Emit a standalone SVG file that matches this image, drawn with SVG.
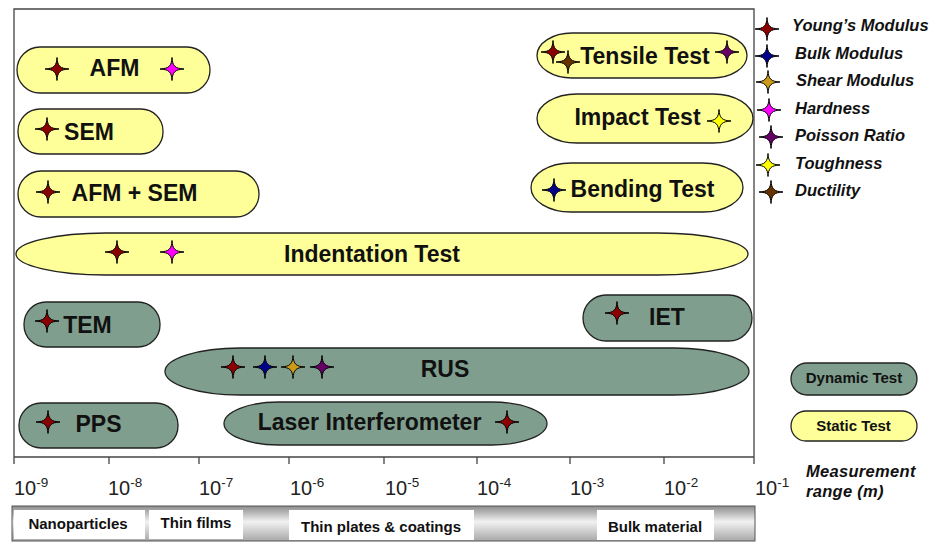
<svg xmlns="http://www.w3.org/2000/svg" xmlns:xlink="http://www.w3.org/1999/xlink" width="932" height="542" viewBox="0 0 932 542">
<style>
.lbl{font-family:"Liberation Sans",Arial,sans-serif;font-weight:bold;font-size:23px;fill:#111;text-anchor:middle}
.st{fill:#ffff99;stroke:#222;stroke-width:1.3}
.dy{fill:#7f9e8e;stroke:#222;stroke-width:1.3}
.leg{font-family:"Liberation Sans",Arial,sans-serif;font-weight:bold;font-style:italic;font-size:16.5px;fill:#111}
.tick{font-family:"Liberation Sans",Arial,sans-serif;font-size:20px;fill:#222}
.sup{font-size:13.5px}
.bar{font-family:"Liberation Sans",Arial,sans-serif;font-weight:bold;font-size:15px;fill:#111;text-anchor:middle}
.frame{fill:none;stroke:#444;stroke-width:1.3}
.sk{stroke:#000;stroke-width:1}
</style>
<defs>
<path id="star" d="M0,-11.5 C0.5,-3 3,-0.5 12,0 C3,0.5 0.5,3 0,11.5 C-0.5,3 -3,0.5 -12,0 C-3,-0.5 -0.5,-3 0,-11.5 Z"/>
<linearGradient id="barg" x1="0" y1="0" x2="0" y2="1">
<stop offset="0" stop-color="#8c8c8c"/>
<stop offset="0.45" stop-color="#f2f2f2"/>
<stop offset="1" stop-color="#a8a8a8"/>
</linearGradient>
</defs>
<rect width="932" height="542" fill="#fff"/>
<g id="frame">
<path class="frame" d="M14,457 V9 H754 V464"/>
<path class="frame" d="M14,457 H754 M14,457 V464 M109,457 V464 M199,457 V464 M289,457 V464 M384,457 V464 M477,457 V464 M570,457 V464 M664,457 V464"/>
</g>
<g id="axis-labels">
<text class="tick" x="14" y="495">10<tspan class="sup" dy="-8">-9</tspan></text>
<text class="tick" x="108" y="495">10<tspan class="sup" dy="-8">-8</tspan></text>
<text class="tick" x="199" y="495">10<tspan class="sup" dy="-8">-7</tspan></text>
<text class="tick" x="290" y="495">10<tspan class="sup" dy="-8">-6</tspan></text>
<text class="tick" x="385" y="495">10<tspan class="sup" dy="-8">-5</tspan></text>
<text class="tick" x="477" y="495">10<tspan class="sup" dy="-8">-4</tspan></text>
<text class="tick" x="570" y="495">10<tspan class="sup" dy="-8">-3</tspan></text>
<text class="tick" x="664" y="495">10<tspan class="sup" dy="-8">-2</tspan></text>
<text class="tick" x="755" y="495">10<tspan class="sup" dy="-8">-1</tspan></text>
<text class="leg" x="806" y="477" font-size="18" letter-spacing="0.3">Measurement</text>
<text class="leg" x="806" y="497" font-size="18" letter-spacing="0.3">range (m)</text>
</g>
<g id="scale-bar">
<rect x="12" y="506" width="743" height="35" fill="url(#barg)" stroke="#555" stroke-width="1"/>
<rect x="14" y="510" width="131" height="29" fill="#fff"/>
<rect x="149" y="510" width="94" height="29" fill="#fff"/>
<rect x="289" y="510" width="185" height="30" fill="#fff"/>
<rect x="597" y="510" width="117" height="30" fill="#fff"/>
<text class="bar" x="78" y="529">Nanoparticles</text>
<text class="bar" x="196" y="528">Thin films</text>
<text class="bar" x="381" y="532">Thin plates &amp; coatings</text>
<text class="bar" x="655" y="532">Bulk material</text>
</g>
<g id="connectors"/>
<g id="node-afm">
<rect class="st" x="17" y="47" width="193" height="46" rx="23"/>
<use href="#star" x="57" y="69" fill="#8b0000" class="sk"/>
<use href="#star" x="172" y="69" fill="#ff00ff" class="sk"/>
<text class="lbl" x="114.5" y="76">AFM</text>
</g>
<g id="node-sem">
<rect class="st" x="18" y="109" width="145" height="45" rx="22"/>
<use href="#star" x="47" y="129" fill="#8b0000" class="sk"/>
<text class="lbl" x="89" y="140">SEM</text>
</g>
<g id="node-afm-sem">
<rect class="st" x="18" y="171" width="241" height="46" rx="23"/>
<use href="#star" x="48" y="192" fill="#8b0000" class="sk"/>
<text class="lbl" x="134.5" y="201">AFM + SEM</text>
</g>
<g id="node-indentation">
<rect class="st" x="16" y="233" width="732" height="42" rx="90" ry="21"/>
<use href="#star" x="117" y="252" fill="#8b0000" class="sk"/>
<use href="#star" x="172" y="252" fill="#ff00ff" class="sk"/>
<text class="lbl" x="372" y="262">Indentation Test</text>
</g>
<g id="node-tem">
<rect class="dy" x="24" y="302" width="136" height="45" rx="22"/>
<use href="#star" x="47" y="321" fill="#8b0000" class="sk"/>
<text class="lbl" x="87.5" y="333">TEM</text>
</g>
<g id="node-iet">
<rect class="dy" x="583" y="295" width="169" height="46" rx="23"/>
<use href="#star" x="617" y="313" fill="#8b0000" class="sk"/>
<text class="lbl" x="667" y="325">IET</text>
</g>
<g id="node-rus">
<rect class="dy" x="165" y="348" width="584" height="47" rx="75" ry="23.5"/>
<use href="#star" x="233" y="367" fill="#8b0000" class="sk"/>
<use href="#star" x="265" y="367" fill="#00008b" class="sk"/>
<use href="#star" x="293" y="367" fill="#cc9a1a" class="sk"/>
<use href="#star" x="322" y="367" fill="#660066" class="sk"/>
<text class="lbl" x="445" y="377">RUS</text>
</g>
<g id="node-pps">
<rect class="dy" x="19" y="403" width="159" height="45" rx="22"/>
<use href="#star" x="48" y="422" fill="#8b0000" class="sk"/>
<text class="lbl" x="98.5" y="432">PPS</text>
</g>
<g id="node-laser">
<rect class="dy" x="224" y="402" width="323" height="43" rx="55" ry="21.5"/>
<use href="#star" x="507" y="422" fill="#8b0000" class="sk"/>
<text class="lbl" x="369.5" y="430">Laser Interferometer</text>
</g>
<g id="node-tensile">
<rect class="st" x="537" y="33" width="210" height="45" rx="35" ry="22.5"/>
<use href="#star" x="553" y="52" fill="#8b0000" class="sk"/>
<use href="#star" x="568" y="62" fill="#663300" class="sk"/>
<use href="#star" x="727" y="52" fill="#660066" class="sk"/>
<text class="lbl" x="645" y="64">Tensile Test</text>
</g>
<g id="node-impact">
<rect class="st" x="537" y="94" width="216" height="49" rx="40" ry="24.5"/>
<use href="#star" x="719" y="121" fill="#ffff00" class="sk"/>
<text class="lbl" x="637.5" y="125">Impact Test</text>
</g>
<g id="node-bending">
<rect class="st" x="531" y="163" width="212" height="49" rx="40" ry="24.5"/>
<use href="#star" x="554" y="190" fill="#00008b" class="sk"/>
<text class="lbl" x="642.5" y="197">Bending Test</text>
</g>
<g id="legend-properties">
<use href="#star" x="767" y="29" fill="#8b0000" class="sk"/>
<use href="#star" x="767" y="56" fill="#00008b" class="sk"/>
<use href="#star" x="768" y="82" fill="#cc9a1a" class="sk"/>
<use href="#star" x="769" y="110" fill="#ff00ff" class="sk"/>
<use href="#star" x="771" y="137" fill="#660066" class="sk"/>
<use href="#star" x="768" y="165" fill="#ffff00" class="sk"/>
<use href="#star" x="771" y="192" fill="#663300" class="sk"/>
<text class="leg" x="792" y="31">Young’s Modulus</text>
<text class="leg" x="795" y="59">Bulk Modulus</text>
<text class="leg" x="796" y="86">Shear Modulus</text>
<text class="leg" x="795" y="114">Hardness</text>
<text class="leg" x="795" y="141">Poisson Ratio</text>
<text class="leg" x="795" y="169">Toughness</text>
<text class="leg" x="795" y="196">Ductility</text>
</g>
<g id="legend-dynamic">
<rect class="dy" x="791" y="363" width="126" height="32" rx="16"/>
<text class="bar" x="854" y="383">Dynamic Test</text>
</g>
<g id="legend-static">
<rect class="st" x="791" y="411" width="126" height="30" rx="15"/>
<text class="bar" x="853.5" y="431">Static Test</text>
</g>
</svg>
